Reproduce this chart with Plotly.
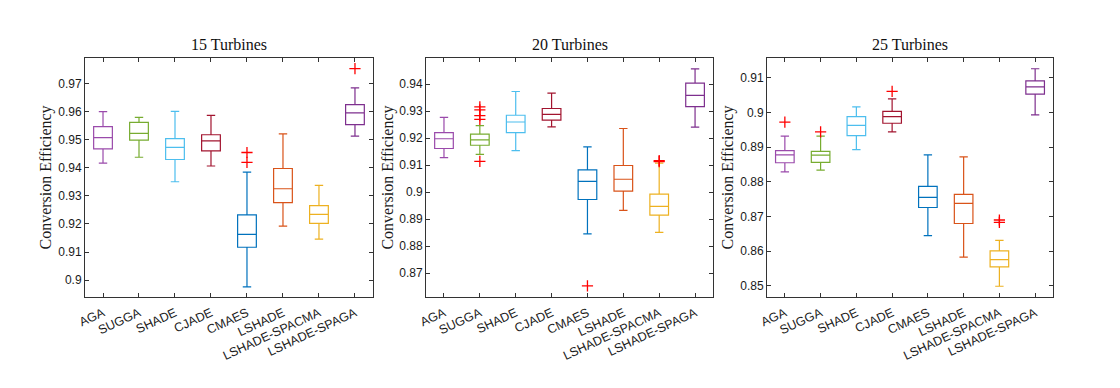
import plotly.graph_objects as go
from plotly.subplots import make_subplots

algorithms = ['AGA', 'SUGGA', 'SHADE', 'CJADE', 'CMAES', 'LSHADE',
              'LSHADE-SPACMA', 'LSHADE-SPAGA']
colors = ['#9A4AAB', '#77AC30', '#4DBEEE', '#A2142F', '#0072BD', '#D95319',
          '#EDB120', '#7E2F8E']
titles = ['15 Turbines', '20 Turbines', '25 Turbines']

# 15 turbines
lo_15 = [0.9416, 0.9437, 0.9350, 0.9406, 0.8976, 0.9192, 0.9146, 0.9512]
q1_15 = [0.9467, 0.9498, 0.9429, 0.9460, 0.9117, 0.9276, 0.9202, 0.9553]
med_15 = [0.9507, 0.9522, 0.9472, 0.9495, 0.9163, 0.9325, 0.9234, 0.9595]
q3_15 = [0.9546, 0.9561, 0.9503, 0.9517, 0.9232, 0.9397, 0.9265, 0.9624]
hi_15 = [0.9599, 0.9579, 0.9600, 0.9586, 0.9384, 0.9520, 0.9337, 0.9684]
out_15 = [[], [], [], [], [0.9454, 0.9419], [], [], [0.9752]]

# 20 turbines
lo_20 = [0.9128, 0.9140, 0.9154, 0.9242, 0.8846, 0.8933, 0.8851, 0.9241]
q1_20 = [0.9162, 0.9174, 0.9221, 0.9267, 0.8973, 0.9004, 0.8915, 0.9317]
med_20 = [0.9198, 0.9194, 0.9260, 0.9288, 0.9040, 0.9048, 0.8948, 0.9359]
q3_20 = [0.9221, 0.9215, 0.9285, 0.9310, 0.9083, 0.9099, 0.8993, 0.9404]
hi_20 = [0.9277, 0.9247, 0.9373, 0.9367, 0.9168, 0.9236, 0.9108, 0.9457]
out_20 = [[], [0.9316, 0.9305, 0.9284, 0.9270, 0.9114], [], [], [0.8653], [],
          [0.9117, 0.9113], []]

# 25 turbines
lo_25 = [0.8829, 0.8834, 0.8893, 0.8944, 0.8645, 0.8583, 0.8499, 0.8993]
q1_25 = [0.8855, 0.8856, 0.8933, 0.8969, 0.8726, 0.8680, 0.8555, 0.9053]
med_25 = [0.8878, 0.8877, 0.8963, 0.8988, 0.8755, 0.8738, 0.8576, 0.9074]
q3_25 = [0.8890, 0.8888, 0.8988, 0.9003, 0.8787, 0.8764, 0.8601, 0.9091]
hi_25 = [0.8932, 0.8932, 0.9016, 0.9039, 0.8878, 0.8872, 0.8631, 0.9126]
out_25 = [[0.8972], [0.8944], [], [0.9061], [], [], [0.8690, 0.8683], []]

panels = [
    (lo_15, q1_15, med_15, q3_15, hi_15, out_15),
    (lo_20, q1_20, med_20, q3_20, hi_20, out_20),
    (lo_25, q1_25, med_25, q3_25, hi_25, out_25),
]
y_ranges = [[0.894, 0.979], [0.8612, 0.9497], [0.8468, 0.9157]]
y_ticks = [
    [0.9, 0.91, 0.92, 0.93, 0.94, 0.95, 0.96, 0.97],
    [0.87, 0.88, 0.89, 0.9, 0.91, 0.92, 0.93, 0.94],
    [0.85, 0.86, 0.87, 0.88, 0.89, 0.9, 0.91],
]
x_domains = [[0.0759, 0.3330], [0.3804, 0.6366], [0.6848, 0.9402]]
y_domain = [0.2345, 0.8505]

fig = make_subplots(rows=1, cols=3)

for p, (lo, q1, med, q3, hi, outs) in enumerate(panels):
    col = p + 1
    for i, name in enumerate(algorithms):
        fig.add_trace(go.Box(
            x=[name], q1=[q1[i]], median=[med[i]], q3=[q3[i]],
            lowerfence=[lo[i]], upperfence=[hi[i]],
            boxpoints=False, width=0.52, whiskerwidth=0.45,
            line=dict(color=colors[i], width=1.2),
            fillcolor='rgba(0,0,0,0)', showlegend=False,
        ), row=1, col=col)
        if outs[i]:
            fig.add_trace(go.Scatter(
                x=[name] * len(outs[i]), y=outs[i], mode='markers',
                marker=dict(symbol='cross-thin', size=8,
                            line=dict(color='#FF0000', width=1.3)),
                showlegend=False,
            ), row=1, col=col)

    xa = 'xaxis' if p == 0 else f'xaxis{col}'
    ya = 'yaxis' if p == 0 else f'yaxis{col}'
    fig.layout[xa].update(
        domain=x_domains[p], type='category', categoryorder='array',
        categoryarray=algorithms, range=[-0.5, 7.5], automargin=False,
        tickangle=-25, ticks='inside', ticklen=4, tickcolor='#333333',
        ticklabelstandoff=3,
        showline=True, linecolor='#333333', linewidth=1, mirror='ticks',
        showgrid=False, zeroline=False,
        tickfont=dict(family='Liberation Sans', size=12.5, color='#1a1a1a'),
    )
    fig.layout[ya].update(
        domain=y_domain, range=y_ranges[p], tickvals=y_ticks[p],
        ticktext=[f'{v:g}' for v in y_ticks[p]], automargin=False,
        ticks='inside', ticklen=4, tickcolor='#333333',
        showline=True, linecolor='#333333', linewidth=1, mirror='ticks',
        showgrid=False, zeroline=False,
        tickfont=dict(family='Liberation Sans', size=12, color='#1a1a1a'),
    )
    fig.add_annotation(
        text=titles[p], xref='paper', yref='paper',
        x=sum(x_domains[p]) / 2, y=y_domain[1], yshift=3,
        xanchor='center', yanchor='bottom', showarrow=False,
        font=dict(family='Liberation Serif', size=16, color='#111111'),
    )
    fig.add_annotation(
        text='Conversion Efficiency', xref='paper', yref='paper',
        x=x_domains[p][0], y=sum(y_domain) / 2, xshift=-39, textangle=-90,
        xanchor='center', yanchor='middle', showarrow=False,
        font=dict(family='Liberation Serif', size=16, color='#1a1a1a'),
    )

fig.update_layout(
    width=1120, height=388,
    margin=dict(l=0, r=0, t=0, b=0),
    paper_bgcolor='white', plot_bgcolor='white',
    showlegend=False,
)

fig.write_html("out.html", config={'displayModeBar': False},
               post_script="document.body.style.margin='0';")
